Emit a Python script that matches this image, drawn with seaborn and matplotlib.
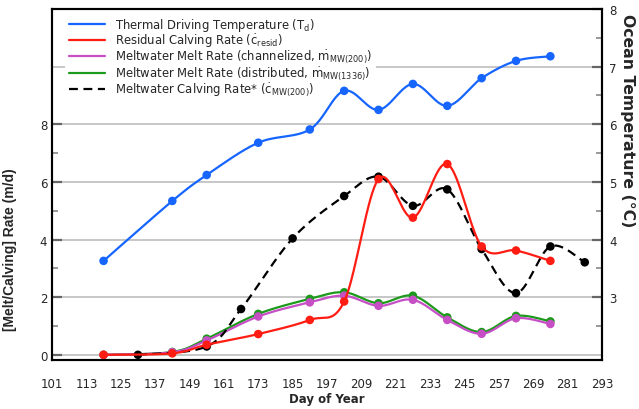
import numpy as np
import seaborn as sns
import matplotlib.pyplot as plt

# Thermal driving temperature (right axis, deg C)
td_days = [119, 143, 155, 173, 191, 203, 215, 227, 239, 251, 263, 275]
td_temp = [3.63, 4.67, 5.12, 5.68, 5.91, 6.58, 6.25, 6.70, 6.32, 6.80, 7.10, 7.18]

# Rates on the left axis (m/d)
rate_days = [119, 143, 155, 173, 191, 203, 215, 227, 239, 251, 263, 275]
resid_calving = [0.0, 0.05, 0.35, 0.72, 1.21, 1.85, 6.10, 4.76, 6.62, 3.76, 3.62, 3.26]
melt_channel = [0.0, 0.09, 0.50, 1.33, 1.82, 2.05, 1.70, 1.91, 1.21, 0.73, 1.27, 1.07]
melt_distrib = [0.0, 0.10, 0.56, 1.42, 1.94, 2.17, 1.79, 2.05, 1.30, 0.79, 1.35, 1.16]

mw_days = [131, 155, 167, 185, 203, 215, 227, 239, 251, 263, 275, 287]
mw_calving = [0.0, 0.29, 1.59, 4.04, 5.51, 6.18, 5.17, 5.74, 3.67, 2.14, 3.76, 3.21]

x_ticks = list(range(101, 294, 12))

sns.set_style("white")
plt.rcParams["font.family"] = ["DejaVu Sans"]
plt.rcParams["mathtext.fontset"] = "dejavusans"


def smooth(x, y, n=40):
    # smoothed line through the points (catmull-rom style bezier)
    x = np.asarray(x, float)
    y = np.asarray(y, float)
    px = np.r_[x[0], x, x[-1]]
    py = np.r_[y[0], y, y[-1]]
    t = np.linspace(0, 1, n)
    xs, ys = [], []
    for i in range(1, len(px) - 2):
        p0 = np.array([px[i], py[i]])
        p1 = np.array([px[i + 1], py[i + 1]])
        c0 = p0 + (p1 - np.array([px[i - 1], py[i - 1]])) / 6
        c1 = p1 - (np.array([px[i + 2], py[i + 2]]) - p0) / 6
        b = ((1 - t) ** 3)[:, None] * p0 + (3 * (1 - t) ** 2 * t)[:, None] * c0 \
            + (3 * (1 - t) * t ** 2)[:, None] * c1 + (t ** 3)[:, None] * p1
        xs.append(b[:, 0])
        ys.append(b[:, 1])
    return np.concatenate(xs), np.concatenate(ys)


fig, ax = plt.subplots(figsize=(6.39, 4.10), dpi=100)
fig.subplots_adjust(left=0.0814, right=0.942, bottom=0.1195, top=0.9756)
ax2 = ax.twinx()

blue = "#1765ff"
red = "#ff1c12"
magenta = "#c64fc6"
green = "#1c9a1c"

handles = []
sx, sy = smooth(td_days, td_temp)
h, = ax2.plot(sx, sy, color=blue, lw=1.6, label="Thermal Driving Temperature (T$_\\mathrm{d}$)")
sns.scatterplot(x=td_days, y=td_temp, ax=ax2, color=blue, s=38, edgecolor="none", zorder=4)
handles.append(h)

series = [
    (rate_days, resid_calving, red, "-", 3.0, "Residual Calving Rate ($\\dot{\\mathrm{c}}_{\\mathrm{resid}}$)"),
    (rate_days, melt_channel, magenta, "-", 2.6, "Meltwater Melt Rate (channelized, $\\dot{\\mathrm{m}}_{\\mathrm{MW(200)}}$)"),
    (rate_days, melt_distrib, green, "-", 2.4, "Meltwater Melt Rate (distributed, $\\dot{\\mathrm{m}}_{\\mathrm{MW(1336)}}$)"),
    (mw_days, mw_calving, "black", "--", 2.8, "Meltwater Calving Rate* ($\\dot{\\mathrm{c}}_{\\mathrm{MW(200)}}$)"),
]
for xd, yd, col, ls, zo, lab in series:
    sx, sy = smooth(xd, yd)
    h, = ax.plot(sx, sy, color=col, lw=1.6, ls=ls, label=lab, zorder=zo)
    if ls == "--":
        h.set_dashes((4, 2.5))
    sns.scatterplot(x=xd, y=yd, ax=ax, color=col, s=38, edgecolor="none", zorder=zo + 0.05)
    handles.append(h)

# seaborn adds its own legends; use one combined legend instead
for a in (ax, ax2):
    if a.get_legend() is not None:
        a.get_legend().remove()

# left axis
ax.set_xlim(101, 293)
ax.set_ylim(-0.18, 12.0)
ax.set_xticks(x_ticks)
ax.set_yticks([0, 2, 4, 6, 8, 10])
ax.set_yticklabels(["0", "2", "4", "6", "8", ""])
ax.set_yticks([1, 3, 5, 7], minor=True)
ax.yaxis.get_major_ticks()[-1].tick1line.set_visible(False)
ax.yaxis.grid(True, color="#bdbdbd", lw=1.2)
ax.tick_params(axis="both", which="major", direction="in", length=7, width=1.6,
               color="#666666", labelsize=8.5, right=False, top=False)
ax.tick_params(axis="y", which="minor", direction="in", length=4, width=1.2, color="#888888", left=True)
ax.tick_params(axis="x", pad=12)
ax.set_xlabel("Day of Year", fontsize=8.5, fontweight="bold", labelpad=2)
ax.set_ylabel("[Melt/Calving] Rate (m/d)", fontsize=10, fontweight="bold",
              family="Liberation Sans")
ax.yaxis.set_label_coords(-0.063, 0.316)

# right axis
ax2.set_ylim(1.91, 8.0)
ax2.set_yticks([3, 4, 5, 6, 7, 8])
ax2.set_yticks([2.5, 3.5, 4.5, 5.5, 6.5, 7.5], minor=True)
ax2.tick_params(axis="y", which="major", direction="in", length=7, width=1.6,
                color="#666666", labelsize=8.5, pad=5)
ax2.tick_params(axis="y", which="minor", direction="in", length=4, width=1.2, color="#888888", right=True)
ax2.set_ylabel("Ocean Temperature (°C)", fontsize=11.3, fontweight="bold", rotation=270)
ax2.yaxis.set_label_coords(1.06, 0.684)

for a in (ax, ax2):
    for sp in a.spines.values():
        sp.set_color("black")
        sp.set_linewidth(1.5)

# legend sits on the left axes so the blue curve (twin axes) draws over it
leg = ax.legend(handles=handles, loc="upper left", bbox_to_anchor=(0.018, 1.0),
                fontsize=8.4, frameon=True, fancybox=False, framealpha=1,
                edgecolor="none", handlelength=3.1, handletextpad=0.85,
                labelspacing=-0.12, borderpad=0.3, borderaxespad=0.3)
leg.set_zorder(10)

plt.savefig("out.png", dpi=100)
plt.close()
